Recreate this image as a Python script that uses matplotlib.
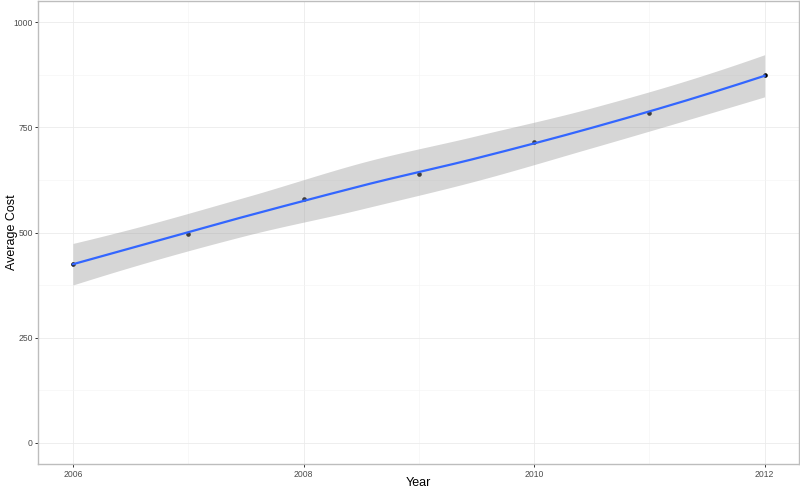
import numpy as np
import matplotlib
matplotlib.use("Agg")
import matplotlib.pyplot as plt
from matplotlib.ticker import MultipleLocator

plt.rcParams["font.family"] = ["Liberation Sans", "DejaVu Sans"]

# data
years = [2006, 2007, 2008, 2009, 2010, 2011, 2012]
avg_cost = [426, 496, 580, 640, 714, 785, 873]
# half width of the grey confidence band at each year
band_half = [51, 38, 55, 53, 53, 43, 51]

x_ticks = [2006, 2008, 2010, 2012]
y_ticks = [0, 250, 500, 750, 1000]

xs = np.array(years, dtype=float)
ys = np.array(avg_cost, dtype=float)
n = len(xs)


# loess (span 0.75, degree 2) evaluated on kd-tree vertices + cubic Hermite, like R
def local_rows(x0, span=0.75):
    q = int(np.floor(n * span))
    d = np.abs(xs - x0)
    h = np.sort(d)[q - 1]
    w = np.clip(1 - (d / h) ** 3, 0, None) ** 3
    X = np.column_stack([np.ones(n), xs - x0, (xs - x0) ** 2])
    XtW = X.T * w
    B = np.linalg.solve(XtW @ X, XtW)
    return B[0], B[1]


def build_vertices():
    lo, hi = xs.min(), xs.max()
    mu = 0.005 * (hi - lo)
    verts = [lo - mu, hi + mu]
    fc = int(np.floor(n * 0.75 * 0.2))

    def split(pts):
        if len(pts) <= fc:
            return
        m = (len(pts) + 1) // 2
        verts.append((pts[m - 1] + pts[m]) / 2)
        split(pts[:m])
        split(pts[m:])

    split(sorted(xs))
    return np.array(sorted(verts))


verts = build_vertices()
vrows = [local_rows(v) for v in verts]


def interp_row(x):
    i = np.clip(np.searchsorted(verts, x) - 1, 0, len(verts) - 2)
    v0, v1 = verts[i], verts[i + 1]
    hh = v1 - v0
    t = (x - v0) / hh
    f0, s0 = vrows[i]
    f1, s1 = vrows[i + 1]
    return ((2 * t**3 - 3 * t**2 + 1) * f0 + (t**3 - 2 * t**2 + t) * hh * s0
            + (-2 * t**3 + 3 * t**2) * f1 + (t**3 - t**2) * hh * s1)


grid = np.linspace(xs.min(), xs.max(), 150)
rows = np.array([interp_row(x) for x in grid])
fit = rows @ ys
half = rows @ np.array(band_half, dtype=float)

fig = plt.figure(figsize=(8, 4.9), dpi=100)
ax = fig.add_axes([0.048, 0.053, 0.951, 0.945])

ax.scatter(xs, ys, s=11, color="black", lw=0, zorder=2)
ax.fill_between(grid, fit - half, fit + half, color="#999999", alpha=0.4, lw=0, zorder=3)
ax.plot(grid, fit, color="#3366FF", lw=1.6, zorder=4)

ax.set_xlim(2005.7, 2012.3)
ax.set_ylim(-50, 1050)
ax.set_xticks(x_ticks)
ax.set_yticks(y_ticks)
ax.xaxis.set_minor_locator(MultipleLocator(1))
ax.yaxis.set_minor_locator(MultipleLocator(125))

ax.grid(True, which="major", color="#ebebeb", lw=0.6, zorder=0)
ax.grid(True, which="minor", color="#f4f4f4", lw=0.4, zorder=0)
ax.set_axisbelow(True)

for s in ax.spines.values():
    s.set_color("#bdbdbd")
    s.set_linewidth(1.0)

ax.tick_params(which="major", length=2.5, width=0.7, color="#333333",
               labelsize=6.2, labelcolor="#4d4d4d", pad=1.5)
ax.tick_params(which="minor", length=0)

ax.set_xlabel("Year", fontsize=9)
ax.set_ylabel("Average Cost", fontsize=9)
ax.xaxis.set_label_coords(0.5, -0.029)
ax.yaxis.set_label_coords(-0.027, 0.5)

fig.savefig("out.png", dpi=100)
